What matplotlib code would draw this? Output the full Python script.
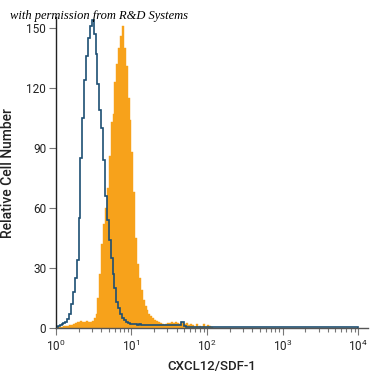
import numpy as np
import matplotlib
matplotlib.use("Agg")
import matplotlib.pyplot as plt
from matplotlib.ticker import LogLocator, FixedLocator

plt.rcParams['font.family'] = ['Roboto', 'DejaVu Sans']
plt.rcParams['mathtext.fontset'] = 'custom'
plt.rcParams['mathtext.rm'] = 'Roboto'
plt.rcParams['mathtext.it'] = 'Roboto:italic'

# histogram bins: 0.025 decade wide, from 10^0 to 10^4
bin_width_decades = 0.025
n_bins = 160

blue_counts = [
    0.5, 1, 1.5, 2, 2.5, 3, 4.5, 7, 12, 18,
    25, 34, 55, 85, 105, 124, 136, 145, 151, 154,
    147, 137, 122, 109, 100, 84, 66, 54, 44, 35,
    27, 20, 13, 10, 7, 5, 4, 3, 2.5, 2,
    2, 2, 2, 1.5, 2, 1.5, 1.5, 1.5, 1.5, 1.5,
    1.5, 1.5, 1.5, 1.5, 1.5, 1.5, 1.5, 1.5, 1.5, 1.5,
    1.5, 1.5, 1.5, 1.5, 1.5, 1.5, 3, 3, 1, 0.5,
] + [0.4] * 90

orange_counts = [
    0, 0.5, 0.5, 0.5, 1, 1, 1, 1.5, 1.5, 2,
    2.5, 3, 3, 3.5, 3, 3, 3.5, 3, 3, 3.5,
    5, 7, 15, 27, 42, 52, 60, 70, 86, 103,
    107, 123, 132, 140, 146, 151, 140, 131, 115, 104,
    88, 68, 45, 32, 25, 19, 14, 11, 9, 7,
    6, 5, 4, 3.5, 3, 2.5, 2, 1.5, 2, 2.5,
    2.5, 3, 2.5, 3, 2.5, 2, 3, 2.5, 2, 2.5,
    1.5, 2, 1.5, 0.5, 2, 0.5, 1, 0.5, 2, 0.5,
    1.5, 1, 0.5, 0,
] + [0] * 76

y_ticks = [0, 30, 60, 90, 120, 150]
x_tick_exps = [0, 1, 2, 3, 4]

edges = 10 ** (np.arange(n_bins + 1) * bin_width_decades)

fig = plt.figure(figsize=(3.75, 3.75), dpi=100)
ax = fig.add_axes([0.149, 0.1253, 0.832, 0.829])

ax.stairs(orange_counts, edges, fill=True, color='#f7a21b', linewidth=0.3,
          edgecolor='#f7a21b')
ax.stairs(blue_counts, edges, fill=False, color='#1d4f73', linewidth=1.2)

ax.set_xscale('log')
ax.set_xlim(1, 10 ** 4.13)
ax.set_ylim(0, 155.5)

ax.spines['top'].set_visible(False)
ax.spines['right'].set_visible(False)
ax.spines['left'].set_color('#222222')
ax.spines['bottom'].set_color('#555555')
ax.spines['left'].set_linewidth(1.0)
ax.spines['bottom'].set_linewidth(1.0)

ax.set_yticks(y_ticks)
ax.set_yticklabels([str(v) for v in y_ticks], fontsize=8.5, color='#222222')
ax.xaxis.set_major_locator(FixedLocator([10 ** e for e in x_tick_exps]))
ax.set_xticklabels([r'$\mathregular{10^{%d}}$' % e for e in x_tick_exps], fontsize=8.5,
                   color='#222222')
ax.xaxis.set_minor_locator(LogLocator(base=10, subs=np.arange(2, 10), numticks=20))
ax.xaxis.set_minor_formatter(plt.NullFormatter())

ax.tick_params(axis='y', direction='out', length=5, width=0.8, color='#777777', pad=2)
ax.tick_params(axis='x', which='major', direction='out', length=5, width=0.8, color='#777777', pad=3)
ax.tick_params(axis='x', which='minor', direction='out', length=3, width=0.8, color='#777777')

ax.set_xlabel('CXCL12/SDF-1', fontsize=9.5, fontweight='medium', color='#222222', labelpad=4)
ax.set_ylabel('Relative Cell Number', fontsize=10, fontweight='medium', color='#222222',
              labelpad=8)

fig.text(0.027, 0.957, 'with permission from R&D Systems', fontsize=9,
         family=['Liberation Serif', 'DejaVu Serif'], style='italic',
         va='center', ha='left')

fig.savefig('out.png', dpi=100)
